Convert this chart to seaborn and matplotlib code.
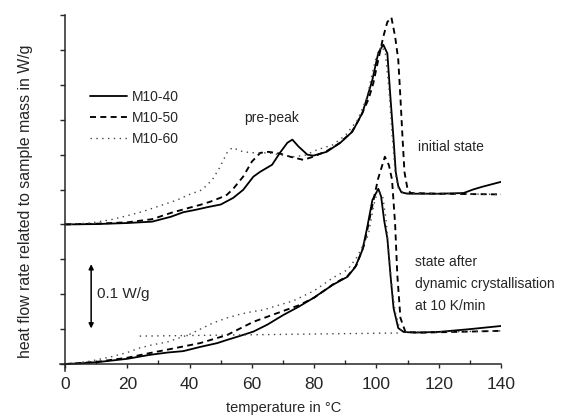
import matplotlib
matplotlib.use("Agg")
import matplotlib.pyplot as plt
from matplotlib.ticker import MultipleLocator, NullFormatter
import numpy as np
import pandas as pd
import seaborn as sns

# --- DSC traces, heat flow in plot units (one y tick = one unit) ---------
# initial state (shifted up by 4 units)
T_40_init = [0, 10, 20, 28, 34, 38, 42, 46, 50, 54, 57.2, 60.5, 62.7, 66.5, 69,
             71.4, 73, 75, 77.8, 79.7, 84, 88.4, 92.3, 95.5, 97, 98.7, 100.6,
             102.2, 103.5, 104.5, 105.5, 106.2, 107, 108, 110, 120, 128, 131,
             134, 140]
hf_40_init = [4.0, 4.01, 4.04, 4.08, 4.22, 4.35, 4.42, 4.5, 4.57, 4.76, 4.99,
              5.37, 5.51, 5.71, 6.05, 6.34, 6.43, 6.23, 6.0, 5.97, 6.08, 6.34,
              6.66, 7.2, 7.63, 8.15, 8.92, 9.15, 8.9, 7.63, 6.43, 5.5, 5.1,
              4.92, 4.88, 4.88, 4.9, 5.0, 5.08, 5.22]

T_50_init = [0, 10, 20, 28, 34, 40, 43.4, 46.6, 49.8, 52, 54, 57.2, 60, 62.7,
             65.3, 69, 72.3, 76.5, 79.7, 84, 88, 92, 95, 97.5, 99, 100.3,
             102.2, 103.5, 104.8, 106, 107, 107.7, 108.4, 109, 110, 111, 120,
             130, 140]
hf_50_init = [4.0, 4.02, 4.06, 4.15, 4.33, 4.48, 4.56, 4.65, 4.76, 4.85, 5.02,
              5.37, 5.8, 6.05, 6.08, 6.03, 5.94, 5.85, 5.94, 6.1, 6.32, 6.64,
              7.1, 7.6, 8.05, 8.6, 9.38, 9.8, 9.93, 9.38, 8.72, 7.63, 6.43,
              5.5, 5.0, 4.9, 4.88, 4.87, 4.86]

T_60_init = [0, 8, 14.5, 20, 25, 30, 36, 40, 44, 47.3, 49.8, 52, 53.7, 57.2,
             61, 65, 69, 73.3, 77, 81, 86, 90, 94, 97, 98.7, 99.8, 101.5,
             102.8, 104, 105, 106, 107, 108.5, 110, 120, 130, 140]
hf_60_init = [4.0, 4.04, 4.13, 4.25, 4.37, 4.52, 4.7, 4.86, 4.99, 5.28, 5.65,
              6.05, 6.2, 6.08, 6.05, 6.05, 6.0, 5.94, 5.98, 6.14, 6.28, 6.55,
              7.0, 7.65, 8.35, 8.75, 9.1, 8.95, 7.9, 6.6, 5.5, 5.05, 4.92,
              4.9, 4.88, 4.87, 4.86]

# state after dynamic crystallisation at 10 K/min
T_40_cryst = [0, 5, 11, 20, 27, 33, 38, 43.4, 48.9, 52, 56, 60.5, 65, 70, 75,
              79.7, 86, 90.7, 93.2, 95.5, 97, 98.7, 100.6, 101.5, 102.5, 103.5,
              104.5, 105.5, 107, 108.7, 112, 120, 130, 140]
hf_40_cryst = [0.0, 0.02, 0.06, 0.15, 0.26, 0.33, 0.37, 0.49, 0.6, 0.69, 0.8,
               0.93, 1.13, 1.4, 1.64, 1.89, 2.27, 2.5, 2.78, 3.27, 3.9, 4.7,
               5.02, 4.8, 4.1, 3.6, 2.55, 1.6, 1.03, 0.92, 0.9, 0.92, 1.0, 1.09]

T_50_cryst = [0, 10, 20, 27, 35, 43.4, 52, 60.5, 68.2, 75, 80, 86, 90.7, 93.5,
              96, 98.4, 100.5, 102.7, 104, 105, 106, 106.7, 107.7, 109.3, 115,
              125, 140]
hf_50_cryst = [0.0, 0.06, 0.18, 0.31, 0.45, 0.6, 0.83, 1.21, 1.46, 1.68, 1.9,
               2.28, 2.52, 2.82, 3.4, 4.42, 5.3, 5.94, 5.7, 5.28, 4.0, 2.55,
               1.32, 0.92, 0.9, 0.92, 0.95]

T_60_cryst = [0, 8, 14.5, 20, 24, 28, 32.8, 40, 47.6, 52, 56.3, 60, 63.7, 68,
              73.3, 80, 86, 90.7, 93.8, 97.4, 99, 100.5, 102, 103, 104, 105,
              106, 107.5, 109, 120, 140]
hf_60_cryst = [0.0, 0.08, 0.2, 0.33, 0.46, 0.55, 0.63, 0.85, 1.18, 1.32, 1.43,
               1.5, 1.55, 1.67, 1.81, 2.1, 2.47, 2.7, 3.07, 3.7, 4.5, 5.0, 4.8,
               4.2, 3.2, 2.2, 1.5, 1.0, 0.92, 0.92, 0.95]

# straight baseline drawn under the M10-60 crystallised trace
T_60_base = [24, 108]
hf_60_base = [0.8, 0.89]

samples = ["M10-40", "M10-50", "M10-60"]

# ---------------------------------------------------------------------------
sns.set_style("ticks")
plt.rcParams["font.family"] = ["Liberation Sans", "DejaVu Sans"]
plt.rcParams["axes.linewidth"] = 1.1

fig = plt.figure(figsize=(5.68, 4.15), dpi=100)
ax = fig.add_axes([0.1062, 0.106, 0.7759, 0.8578])

styles = {
    "M10-40": dict(linestyle="-", linewidth=1.3, color="black"),
    "M10-50": dict(linestyle=(0, (3.2, 2.3)), linewidth=1.35, color="black"),
    "M10-60": dict(linestyle=(0, (1, 3.2)), linewidth=1.0, color="#444444"),
}

traces = [
    ("M10-40", T_40_init, hf_40_init, True),
    ("M10-50", T_50_init, hf_50_init, True),
    ("M10-60", T_60_init, hf_60_init, True),
    ("M10-40", T_40_cryst, hf_40_cryst, False),
    ("M10-50", T_50_cryst, hf_50_cryst, False),
    ("M10-60", T_60_cryst, hf_60_cryst, False),
    ("M10-60", T_60_base, hf_60_base, False),
]

handles = []
for name, T, hf, in_legend in traces:
    df = pd.DataFrame({"temperature": T, "heat_flow": hf})
    sns.lineplot(data=df, x="temperature", y="heat_flow", ax=ax,
                 estimator=None, sort=False, legend=False, **styles[name])
    if in_legend:
        handles.append(ax.get_lines()[-1])

leg = ax.legend(handles, samples, loc="upper left",
                bbox_to_anchor=(0.054, 0.804), frameon=False, fontsize=10,
                handlelength=2.7, handletextpad=0.35, labelspacing=0.5,
                borderaxespad=0)

# axes: y-axis at T = 0, x-axis at zero heat flow, small overhang at origin
ax.set_xlim(-1.5, 140)
ax.set_ylim(-0.2, 10)
ax.spines["left"].set_position(("data", 0))
ax.spines["bottom"].set_position(("data", 0))
ax.spines["top"].set_visible(False)
ax.spines["right"].set_visible(False)

ax.xaxis.set_major_locator(MultipleLocator(20))
ax.xaxis.set_minor_locator(MultipleLocator(10))
ax.yaxis.set_major_locator(MultipleLocator(1))
ax.yaxis.set_major_formatter(NullFormatter())
ax.tick_params(axis="x", which="major", direction="out", length=3, width=1,
               labelsize=12.5, pad=6)
ax.tick_params(axis="x", which="minor", direction="in", length=3, width=1)
ax.tick_params(axis="y", which="major", direction="out", length=3.5, width=1)

ax.set_xlabel("temperature in °C", fontsize=10.5)
ax.xaxis.set_label_coords(0.507, -0.085)
ax.set_ylabel("heat flow rate related to sample mass in W/g", fontsize=11.4)
ax.yaxis.set_label_coords(-0.063, 0.478)

# annotations
ax.text(57.5, 7.06, "pre-peak", fontsize=10, va="center", ha="left")
ax.text(113.2, 6.23, "initial state", fontsize=10, va="center", ha="left")
ax.text(112.5, 3.12, "state after\ndynamic crystallisation\nat 10 K/min",
        fontsize=10, va="top", ha="left", linespacing=1.7)

# 0.1 W/g scale bar
ax.annotate("", xy=(8.4, 1.02), xytext=(8.4, 2.86),
            arrowprops=dict(arrowstyle="<|-|>", color="black", lw=1.1,
                            mutation_scale=7, shrinkA=0, shrinkB=0))
ax.text(10.3, 2.0, "0.1 W/g", fontsize=11, va="center", ha="left")

fig.savefig("out.png", dpi=100)
